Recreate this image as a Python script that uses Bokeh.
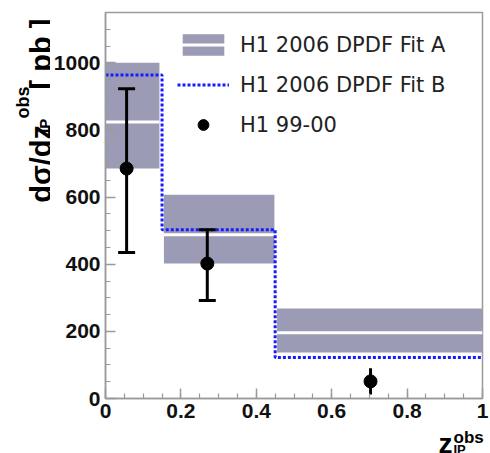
import numpy as np
from bokeh.plotting import figure
from bokeh.layouts import row, column
from bokeh.models import (Range1d, Legend, LegendItem, SingleIntervalTicker,
                          CustomJSTickFormatter)
from bokeh.core.properties import value
from bokeh.embed import file_html
from bokeh.resources import INLINE

# ---- data ----
bin_edges = [0.0, 0.15, 0.45, 1.0]
band_left = [0.0, 0.155, 0.455]
band_right = [0.143, 0.448, 1.0]
fitA_central = [824, 488, 196]
fitA_low = [685, 402, 137]
fitA_high = [1000, 607, 268]
fitB = [964, 503, 122]
data_x = [0.056, 0.27, 0.703]
data_y = [685, 402, 51]
data_lo = [435, 292, 12]
data_hi = [923, 503, 90]

FONT = "Liberation Sans"
LEG_FONT = "DejaVu Sans"

p = figure(width=440, height=426, output_backend="svg", toolbar_location=None,
           x_range=Range1d(0, 1), y_range=Range1d(0, 1150),
           min_border_left=55, min_border_right=8, min_border_top=12, min_border_bottom=28)
p.xgrid.visible = False
p.ygrid.visible = False
p.outline_line_color = "#9a9a9a"
p.outline_line_width = 1.5

band = p.quad(left=band_left, right=band_right, bottom=fitA_low, top=fitA_high,
              fill_color="#9b9bb5", line_color=None)
central = p.segment(x0=band_left, x1=band_right, y0=fitA_central, y1=fitA_central,
                    line_color="white", line_width=3)

xs = np.repeat(bin_edges, 2)[1:-1]
ys = np.repeat(fitB, 2)
fitb = p.line(xs, ys, line_color="#1a1aff", line_width=3, line_dash="3 2")

p.segment(x0=data_x, x1=data_x, y0=data_lo, y1=data_hi, line_color="black", line_width=3)
dx = np.array(data_x)
lo = np.array(data_lo)
hi = np.array(data_hi)
mask = (hi - lo) > 150
p.scatter(np.concatenate([dx[mask], dx[mask]]), np.concatenate([lo[mask], hi[mask]]),
          marker="dash", size=17, line_width=3, line_color="black")
pts = p.scatter(data_x, data_y, marker="circle", size=13, fill_color="black", line_color="black")

for ax, interval in ((p.xaxis, 0.2), (p.yaxis, 200)):
    ax.ticker = SingleIntervalTicker(interval=interval, num_minor_ticks=4)
    ax.axis_line_color = "#9a9a9a"
    ax.axis_line_width = 1.5
    ax.major_tick_line_color = "#9a9a9a"
    ax.minor_tick_line_color = "#9a9a9a"
    ax.major_tick_line_width = 1.5
    ax.minor_tick_line_width = 1.2
    ax.major_tick_in = 10
    ax.major_tick_out = 0
    ax.minor_tick_in = 5
    ax.minor_tick_out = 0
    ax.major_label_text_font = FONT
    ax.major_label_text_font_size = "21px"
    ax.major_label_text_font_style = "bold"
    ax.major_label_text_color = "#111111"
p.xaxis.formatter = CustomJSTickFormatter(code="return Number(tick.toFixed(2)).toString()")
p.xaxis.major_label_standoff = 5
p.yaxis.major_label_standoff = 5

legend = Legend(items=[
    LegendItem(label="H1 2006 DPDF Fit A", renderers=[band, central]),
    LegendItem(label="H1 2006 DPDF Fit B", renderers=[fitb]),
    LegendItem(label="H1 99-00", renderers=[pts]),
], location=(72, 260), orientation="vertical")
legend.glyph_width = 52
legend.glyph_height = 27
legend.spacing = 13
legend.padding = 0
legend.margin = 0
legend.label_standoff = 11
legend.label_text_font = LEG_FONT
legend.label_text_font_size = "21px"
legend.label_text_color = "#222222"
legend.border_line_color = None
legend.background_fill_alpha = 0
p.add_layout(legend)


def blank(w, h, **kw):
    # helper canvas whose data units equal pixels (origin bottom-left)
    f = figure(width=w, height=h, output_backend="svg", toolbar_location=None,
               x_axis_location=None, y_axis_location=None, min_border=0,
               x_range=Range1d(0, w), y_range=Range1d(0, h), **kw)
    f.outline_line_color = None
    f.grid.visible = False
    f.background_fill_alpha = 0
    f.border_fill_alpha = 0
    return f


def txt(f, text, x, y, size, angle=0.0):
    f.text(x=[x], y=[y], text=[text], angle=angle, text_font=value(FONT),
           text_font_size=size, text_font_style="bold", text_color="black",
           text_baseline="alphabetic", text_align="left")


# y-axis title (left of the plot), rotated
left = blank(50, 426)
txt(left, "dσ/dz", 40, 216, "29px", np.pi / 2)
txt(left, "IP", 44, 293, "15px", np.pi / 2)
txt(left, "obs", 22, 309, "18px", np.pi / 2)
txt(left, "[ pb ]", 40, 341, "29px", np.pi / 2)

# x-axis title (below the plot), slightly overlapping the plot's transparent bottom border
bottom = blank(490, 40, margin=(-13, 0, 0, 0))
txt(bottom, "z", 438, 10, "28px")
txt(bottom, "obs", 453, 16, "17px")
txt(bottom, "IP", 453, 4, "13px")

layout = column(row(left, p, spacing=0), bottom, spacing=0)
open("out.html", "w").write(file_html(layout, INLINE))
